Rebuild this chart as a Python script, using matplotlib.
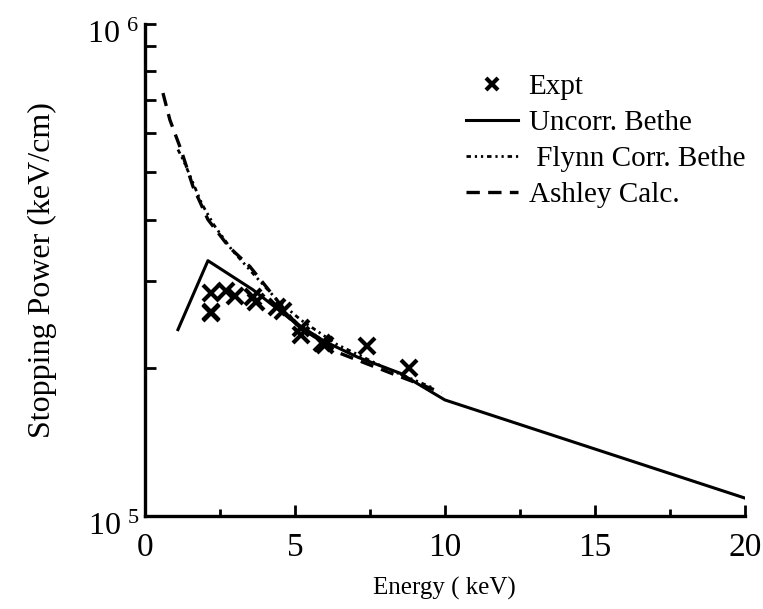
import numpy as np
import matplotlib
matplotlib.use('Agg')
import matplotlib.pyplot as plt
import matplotlib.transforms as mtransforms
from matplotlib.ticker import FixedLocator, FixedFormatter, NullFormatter

plt.rcParams['font.family'] = ['Liberation Serif', 'DejaVu Serif']
plt.rcParams['mathtext.fontset'] = 'custom'
plt.rcParams['mathtext.rm'] = 'Liberation Serif'

# experimental stopping power points
expt_E = [2.2, 2.2, 2.2, 2.7, 3.0, 3.6, 3.7, 4.4, 4.6, 5.2, 5.2, 5.9, 6.0, 7.4, 8.8]
expt_S = [2.84e5, 2.60e5, 2.58e5, 2.86e5, 2.80e5, 2.79e5, 2.72e5, 2.66e5, 2.61e5,
          2.41e5, 2.33e5, 2.25e5, 2.22e5, 2.21e5, 2.00e5]

# uncorrected Bethe formula
bethe_E = [1.1, 2.1, 3.6, 5.0, 6.0, 7.1, 8.5, 10.0, 20.0]
bethe_S = [2.39e5, 3.30e5, 2.88e5, 2.47e5, 2.26e5, 2.10e5, 1.95e5, 1.72e5, 1.087e5]

# Flynn corrected Bethe
flynn_E = [1.1, 1.3, 1.6, 1.9, 2.3, 2.9, 3.7, 4.4, 5.2, 6.4, 8.0, 9.6]
flynn_S = [5.55e5, 5.25e5, 4.75e5, 4.30e5, 3.90e5, 3.47e5, 3.06e5, 2.75e5, 2.50e5,
           2.23e5, 2.00e5, 1.82e5]

# Ashley calculation
ashley_E = [0.6, 0.83, 1.2, 1.6, 2.1, 2.8, 3.5, 5.1, 6.5, 8.2, 9.9]
ashley_S = [7.23e5, 6.38e5, 5.55e5, 4.67e5, 4.00e5, 3.52e5, 3.21e5, 2.43e5, 2.14e5,
            1.95e5, 1.78e5]

fig = plt.figure(figsize=(7.63, 6.09), dpi=100)
ax = fig.add_axes([0.190, 0.153, 0.786, 0.808])

ax.plot(expt_E, expt_S, 'x', color='black', ms=11, mew=3, label='Expt')
ax.plot(bethe_E, bethe_S, '-', color='black', lw=2.2, label='Uncorr. Bethe')
ax.plot(flynn_E, flynn_S, color='black', lw=2.0,
        dashes=(1.6, 1.4, 0.8, 1.4, 0.8, 1.4), label=' Flynn Corr. Bethe')
ax.plot(ashley_E, ashley_S, color='black', lw=2.4, dashes=(4, 2.5),
        label='Ashley Calc.')

ax.set_yscale('log')
ax.set_xlim(0, 20)
ax.set_ylim(1e5, 1e6)

ax.xaxis.set_major_locator(FixedLocator([0, 5, 10, 15, 20]))
ax.xaxis.set_minor_locator(FixedLocator([2.5, 7.5, 12.5, 17.5]))
ax.yaxis.set_major_locator(FixedLocator([1e5, 1e6]))
ax.yaxis.set_major_formatter(FixedFormatter([r'$\mathregular{10^{\ 5}}$',
                                             r'$\mathregular{10^{\ 6}}$']))
ax.yaxis.set_minor_locator(FixedLocator(np.arange(2, 10) * 1e5))
ax.yaxis.set_minor_formatter(NullFormatter())

for side in ['top', 'right']:
    ax.spines[side].set_visible(False)
for side in ['left', 'bottom']:
    ax.spines[side].set_linewidth(2.4)

ax.tick_params(axis='x', which='major', direction='in', length=8, width=2,
               labelsize=24, pad=12)
ax.tick_params(axis='x', which='minor', direction='in', length=5, width=2)
ax.tick_params(axis='y', which='both', direction='in', length=8, width=2,
               labelsize=23, pad=4)

# decade labels sit a little below their ticks
shift = mtransforms.ScaledTranslation(0, -8 / 100, fig.dpi_scale_trans)
for lbl in ax.get_yticklabels():
    lbl.set_transform(lbl.get_transform() + shift)

ax.set_xlabel('Energy ( keV)', fontsize=18, labelpad=10)
ax.set_ylabel('Stopping Power (keV/cm)', fontsize=23, labelpad=22)

leg = ax.legend(loc='upper left', bbox_to_anchor=(0.535, 0.898), frameon=False,
                fontsize=21, numpoints=1, handlelength=1.8, handletextpad=0.35,
                labelspacing=0.33, borderpad=0, borderaxespad=0)
leg.legend_handles[0].set_markersize(8)

fig.savefig('out.png', dpi=100)
